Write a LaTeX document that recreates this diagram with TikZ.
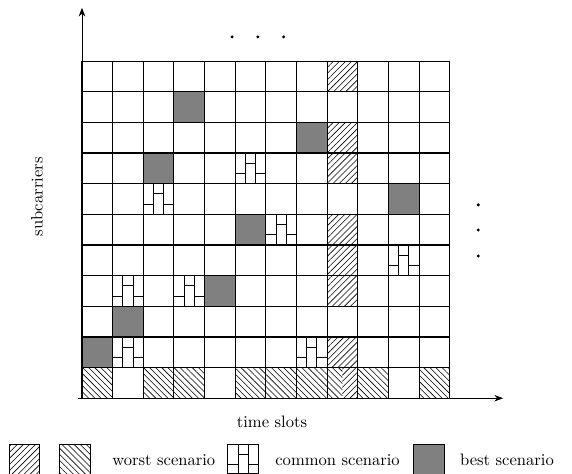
\documentclass[tikz,border=0pt]{standalone}
\usepackage{tikz}
\usetikzlibrary{arrows.meta,patterns.meta,positioning}
\definecolor{bestgray}{HTML}{808080}

% brick cell (common scenario), lower left corner at (#1,#2)
\newcommand{\brickcell}[2]{%
  \draw[brickline] (#1+1/3,#2) -- (#1+1/3,#2+1) (#1+2/3,#2) -- (#1+2/3,#2+1)
        (#1,#2+1/3) -- (#1+1/3,#2+1/3) (#1+1/3,#2+2/3) -- (#1+2/3,#2+2/3)
        (#1+2/3,#2+1/3) -- (#1+1,#2+1/3);}

\begin{document}
\begin{tikzpicture}[x=0.65cm,y=0.65cm,>=Stealth,line cap=rect,
    gridline/.style={black,line width=0.7pt},
    worstne/.style={pattern={Lines[angle=45,distance=2.6pt,line width=0.35pt]}},
    worstnw/.style={pattern={Lines[angle=-45,distance=2.6pt,line width=0.35pt]}},
    best/.style={fill=bestgray},
    brickline/.style={black,line width=0.6pt},
    axis/.style={->,line width=0.5pt},
    lbl/.style={inner sep=0pt}]
        \useasboundingbox (-2.675,-2.47) rectangle (15.99,12.995);
        % --- worst scenario: one subcarrier column ---
        \foreach \r in {1,3,4,5,7,8,10}{
          \path[worstne] (8,\r) rectangle ++(1,1);
        }
        % --- worst scenario: one time slot row ---
        \foreach \c in {0,2,3,5,6,7,9,11}{
          \path[worstnw] (\c,0) rectangle ++(1,1);
        }
        \path[worstnw] (8,0) rectangle (8.5,1);
        \path[worstne] (8.5,0) rectangle (9,1);
        % --- best scenario cells ---
        \foreach \c/\r in {3/9,7/8,2/7,10/6,5/5,4/3,1/2,0/1}{
          \fill[best] (\c,\r) rectangle ++(1,1);
        }
        % --- grid 12 x 11 ---
        \foreach \c in {0,...,12}{
          \draw[gridline] (\c,0) -- (\c,11);
        }
        \foreach \r in {0,...,11}{
          \draw[gridline] (0,\r) -- (12,\r);
        }
        % --- common scenario cells ---
        \foreach \c/\r in {5/7,2/6,6/5,10/4,1/3,3/3,1/1,7/1}{
          \brickcell{\c}{\r}
        }
        % --- axes ---
        \coordinate (xstart) at (-0.13,0);
        \coordinate (xend) at (13.74,0);
        \coordinate (orig) at (0,0);
        \coordinate (ytop) at (0,12.74);
        \draw[axis] (xstart) -- (xend);
        \draw[axis] (orig) -- (ytop);
        \node[rotate=90] (subc) at (-1.47,6.57) {subcarriers};
        \node (tslots) at (6.2,-0.77) {time slots};
        % --- dots ---
        \foreach \x in {4.90,5.74,6.58}{
          \fill (\x,11.79) circle (1pt);
        }
        \foreach \y in {6.31,5.49,4.64}{
          \fill (12.93,\y) circle (1pt);
        }
        % --- legend ---
        \draw[line width=0.5pt,worstne] (-2.38,-1.5) rectangle ++(1,-0.97);
        \draw[line width=0.5pt,worstnw] (-0.72,-1.5) rectangle ++(1,-0.97);
        \node[lbl,anchor=west] (worst) at (0.98,-2.02) {worst scenario};
        \draw[gridline] (4.76,-1.5) rectangle ++(1,-0.97);
        \draw[brickline] (4.76+1/3,-1.5) -- (4.76+1/3,-2.47) (4.76+2/3,-1.5) -- (4.76+2/3,-2.47)
              (4.76,-2.15) -- (4.76+1/3,-2.15) (4.76+1/3,-1.82) -- (4.76+2/3,-1.82)
              (4.76+2/3,-2.15) -- (5.76,-2.15);
        \node[lbl,anchor=west] (common) at (6.3,-2.02) {common scenario};
        \draw[line width=0.5pt,best] (10.83,-1.5) rectangle ++(1,-0.97);
        \node[lbl,anchor=west] (bestlbl) at (12.33,-2.02) {best scenario};
\end{tikzpicture}
\end{document}
